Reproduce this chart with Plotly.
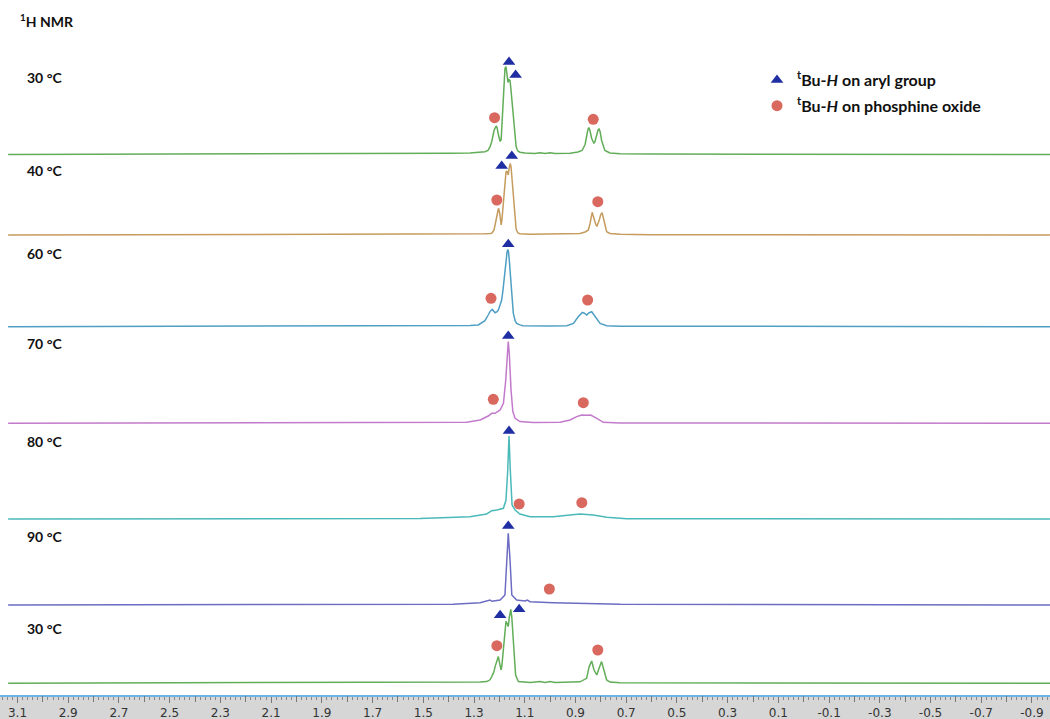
import plotly.graph_objects as go

# ---------------- data (ppm, intensity above each trace's baseline) ----------------
temps = ["30 °C", "40 °C", "60 °C", "70 °C", "80 °C", "90 °C", "30 °C"]
colors = ["#62ad58", "#c59b5e", "#4f9fc4", "#c27acb", "#4cb9b9", "#6c6cc2", "#62ad58"]

ppm_30a = [3.137, 1.986, 1.395, 1.316, 1.276, 1.257, 1.245, 1.237, 1.230, 1.225, 1.221, 1.213, 1.209, 1.205,
           1.201, 1.197, 1.193, 1.190, 1.186, 1.182, 1.178, 1.174, 1.170, 1.166, 1.162, 1.158, 1.154, 1.150,
           1.146, 1.142, 1.138, 1.134, 1.130, 1.127, 1.119, 1.099, 1.060, 1.040, 1.020, 1.000, 0.981, 0.921,
           0.890, 0.874, 0.862, 0.856, 0.851, 0.847, 0.843, 0.836, 0.831, 0.827, 0.823, 0.816, 0.811, 0.807,
           0.803, 0.797, 0.790, 0.784, 0.764, 0.724, 0.606, 0.212, -0.971]
int_30a = [0, 0.5, 1.2, 1.6, 2.2, 2.8, 4, 7.5, 13, 21, 24, 28.5, 27, 21,
           15, 13, 15, 30, 58, 77, 86, 88, 81, 72, 75, 74, 64, 52,
           39, 24, 14, 8, 5, 3.5, 2.3, 1.5, 1, 1.8, 0.9, 1.8, 0.9, 1.3,
           2.5, 4, 10, 21, 25, 27, 24, 16, 12, 11, 13, 21, 24.5, 25.5,
           23, 14, 7, 4, 1.5, 0.8, 0.4, 0.2, 0]

ppm_40 = [3.137, 1.986, 1.395, 1.316, 1.257, 1.237, 1.230, 1.221, 1.213, 1.209, 1.205, 1.203, 1.199, 1.197,
          1.193, 1.190, 1.186, 1.182, 1.178, 1.174, 1.171, 1.168, 1.165, 1.162, 1.158, 1.157, 1.154, 1.150,
          1.146, 1.142, 1.138, 1.134, 1.127, 1.119, 1.079, 1.000, 0.921, 0.882, 0.862, 0.849, 0.843, 0.840,
          0.836, 0.834, 0.830, 0.824, 0.819, 0.815, 0.811, 0.806, 0.801, 0.795, 0.791, 0.786, 0.780, 0.777,
          0.764, 0.724, 0.606, -0.971]
int_40 = [0, 0.3, 0.6, 0.8, 1.2, 1.5, 1.8, 5, 13, 20, 25, 26.7, 22, 17,
          10, 15, 28, 42, 56, 63, 64, 61, 60, 66, 71.5, 71.7, 68, 55,
          40, 24, 12, 6, 2, 1.2, 0.7, 0.8, 0.8, 1.5, 3, 5, 11, 16.7,
          21, 22.7, 19, 13, 10, 9, 11, 15, 20, 22.3, 18, 11.7, 6, 3.3,
          1.5, 0.7, 0.3, 0]

ppm_60 = [3.137, 1.986, 1.513, 1.395, 1.316, 1.283, 1.257, 1.244, 1.236, 1.228, 1.221, 1.217, 1.209, 1.204,
          1.197, 1.191, 1.186, 1.182, 1.174, 1.170, 1.167, 1.164, 1.161, 1.154, 1.150, 1.145, 1.138, 1.132,
          1.119, 1.107, 1.000, 0.934, 0.908, 0.889, 0.873, 0.865, 0.856, 0.846, 0.836, 0.823, 0.803, 0.777,
          0.724, -0.971]
int_60 = [0, 0.3, 0.6, 0.8, 1.2, 1.7, 6, 11.7, 15.5, 17.3, 15, 14, 15, 16.7,
          22, 26.7, 36, 46.7, 66.7, 74, 77.3, 75, 66.7, 40, 27, 13.3, 6, 3.3,
          1.8, 1, 0.7, 1, 3.3, 10, 14.3, 13.5, 11.7, 14, 15, 10, 3.3, 1,
          0.5, 0]

ppm_70 = [3.137, 1.986, 1.513, 1.329, 1.276, 1.244, 1.230, 1.217, 1.197, 1.184, 1.175, 1.169, 1.165, 1.161,
          1.154, 1.147, 1.138, 1.119, 1.067, 0.961, 0.921, 0.895, 0.875, 0.856, 0.840, 0.816, 0.790, 0.724,
          -0.971]
int_70 = [0, 0.2, 0.5, 1, 3.3, 7.3, 10, 10, 13.3, 20, 43, 70, 81.7, 70,
          33, 11.7, 5, 1.7, 0.7, 1, 3.3, 6.7, 8.3, 8, 8.3, 5, 1, 0.3,
          0]

ppm_80 = [3.137, 1.986, 1.513, 1.316, 1.250, 1.230, 1.210, 1.184, 1.174, 1.167, 1.162, 1.157, 1.150, 1.138,
          1.119, 1.079, 0.988, 0.921, 0.882, 0.830, 0.777, 0.698, -0.971]
int_80 = [0, 0.3, 0.6, 2.3, 5, 8.3, 9, 10.7, 19, 49, 83, 49, 14, 9,
          5, 2.3, 2.3, 4, 5, 4, 1.7, 0.3, 0]

ppm_90 = [3.137, 1.986, 1.383, 1.276, 1.244, 1.237, 1.230, 1.197, 1.178, 1.171, 1.165, 1.158, 1.151, 1.132,
          1.099, 1.090, 1.079, 0.988, 0.856, 0.724, -0.971]
int_90 = [0, 0.3, 0.7, 2.3, 4, 5, 3.7, 5, 10, 45, 71.7, 45, 10, 5,
          4, 5, 3.3, 2.3, 1.7, 0.7, 0]

ppm_30b = [3.137, 1.986, 1.395, 1.316, 1.276, 1.250, 1.237, 1.230, 1.221, 1.217, 1.209, 1.204, 1.199, 1.193,
           1.190, 1.184, 1.178, 1.174, 1.170, 1.165, 1.161, 1.157, 1.155, 1.151, 1.145, 1.138, 1.136, 1.125,
           1.079, 1.040, 1.020, 1.000, 0.981, 0.882, 0.856, 0.846, 0.836, 0.827, 0.816, 0.807, 0.797, 0.788,
           0.777, 0.764, 0.724, -0.971]
int_30b = [0, 0.4, 0.8, 1, 1.3, 1.7, 3.5, 6.7, 12, 16.7, 24, 26.7, 20, 13.3,
           18, 38, 54, 62, 60, 56.7, 66, 72, 74, 66, 38, 16, 8.3, 1.7,
           0.8, 1.7, 0.8, 1.7, 0.8, 1.5, 5, 16.7, 22.3, 13.3, 8.3, 15, 21.7, 13.3,
           3.3, 1.2, 0.6, 0]

spectra_ppm = [ppm_30a, ppm_40, ppm_60, ppm_70, ppm_80, ppm_90, ppm_30b]
spectra_int = [int_30a, int_40, int_60, int_70, int_80, int_90, int_30b]

# peak assignment markers: (spectrum index, ppm, height above baseline)
aryl_idx = [0, 0, 1, 1, 2, 3, 4, 5, 6, 6]
aryl_ppm = [1.162, 1.136, 1.191, 1.151, 1.165, 1.165, 1.162, 1.165, 1.197, 1.122]
aryl_h = [92.5, 79.5, 69, 79, 82.4, 87.3, 88, 79, 68, 74]

oxide_idx = [0, 0, 1, 1, 2, 2, 3, 3, 4, 4, 5, 6, 6]
oxide_ppm = [1.219, 0.830, 1.210, 0.812, 1.233, 0.852, 1.224, 0.869, 1.122, 0.875, 1.003, 1.210, 0.812]
oxide_h = [36.8, 35.2, 35, 33.3, 28.4, 26.7, 24, 20.6, 15, 16.3, 16, 37.6, 33.3]

# axis ticks: labelled every 0.2 ppm, unlabelled medium ticks in between, small ticks every 0.02
label_ticks = [round(3.1 - 0.2 * i, 1) for i in range(21)]
label_text = ["%.1f" % v for v in label_ticks]
mid_ticks = [round(3.0 - 0.2 * i, 1) for i in range(20)]

# ---------------- layout constants ----------------
W, H = 1050, 719
BAND = 24
PLOT_H = H - BAND
X_RANGE = [3.169, -0.971]
offsets = [540.5, 460, 368.3, 271.7, 176, 90, 11.7]
label_px_y = [77, 171, 253, 343, 441, 536, 628]

fig = go.Figure()
for i in range(len(spectra_ppm)):
    fig.add_trace(go.Scatter(
        x=spectra_ppm[i], y=[offsets[i] + v for v in spectra_int[i]],
        mode="lines", line=dict(color=colors[i], width=1.5),
        showlegend=False, hoverinfo="skip"))

fig.add_trace(go.Scatter(
    x=aryl_ppm, y=[offsets[k] + h for k, h in zip(aryl_idx, aryl_h)],
    mode="markers", name="<b><sup>t</sup>Bu-<i>H</i> on aryl group</b>", legendgroup="a",
    marker=dict(symbol="triangle-up", size=11, color="#1f2ea3")))
fig.add_trace(go.Scatter(
    x=oxide_ppm, y=[offsets[k] + h for k, h in zip(oxide_idx, oxide_h)],
    mode="markers", name="<b><sup>t</sup>Bu-<i>H</i> on phosphine oxide</b>", legendgroup="b",
    marker=dict(symbol="circle", size=11, color="#d9685f")))
# empty trace so the overlay axis carrying the unlabelled medium ticks is drawn
fig.add_trace(go.Scatter(x=[], y=[], xaxis="x2", showlegend=False, hoverinfo="skip"))

label_font = dict(family="Lato, Open Sans, sans-serif", size=14, color="#111111")
annotations = [dict(text="<b><sup>1</sup>H NMR</b>", x=18 / W, y=1 - 20 / PLOT_H, xref="paper", yref="paper",
                    xanchor="left", yanchor="middle", showarrow=False, font=label_font)]
for t, py in zip(temps, label_px_y):
    annotations.append(dict(text="<b>%s</b>" % t, x=25 / W, y=1 - py / PLOT_H, xref="paper", yref="paper",
                            xanchor="left", yanchor="middle", showarrow=False, font=label_font))

fig.update_layout(
    width=W, height=H,
    margin=dict(l=0, r=0, t=0, b=BAND),
    plot_bgcolor="white", paper_bgcolor="white",
    xaxis=dict(range=X_RANGE, showgrid=False, zeroline=False,
               showline=True, linecolor="#6fb3e6", linewidth=2,
               tickmode="array", tickvals=label_ticks, ticktext=label_text,
               ticks="outside", ticklen=6, tickcolor="#777777", tickwidth=1,
               tickfont=dict(family="DejaVu Sans", size=12, color="#333333"),
               minor=dict(tickmode="linear", tick0=0, dtick=0.02, ticklen=3, tickcolor="#888888", ticks="outside")),
    xaxis2=dict(range=X_RANGE, overlaying="x", anchor="y", side="bottom", matches="x",
                showgrid=False, zeroline=False, showline=False, showticklabels=False,
                tickmode="array", tickvals=mid_ticks, ticks="outside", ticklen=6,
                tickcolor="#777777", tickwidth=1),
    yaxis=dict(range=[0, PLOT_H], visible=False, fixedrange=True),
    showlegend=True,
    legend=dict(x=(797 - 40) / W, y=1 - 63 / PLOT_H, xanchor="left", yanchor="top",
                traceorder="grouped", tracegroupgap=2,
                bgcolor="rgba(0,0,0,0)", font=dict(family="Lato, Open Sans, sans-serif", size=16, color="#111111")),
    annotations=annotations,
    shapes=[dict(type="rect", xref="paper", yref="paper", x0=0, x1=1, y0=-BAND / PLOT_H, y1=0,
                 fillcolor="#d6d6d6", line=dict(width=0), layer="below")],
)

fig.write_html("out.html", config={"displayModeBar": False},
               post_script="document.body.style.margin='0';")
